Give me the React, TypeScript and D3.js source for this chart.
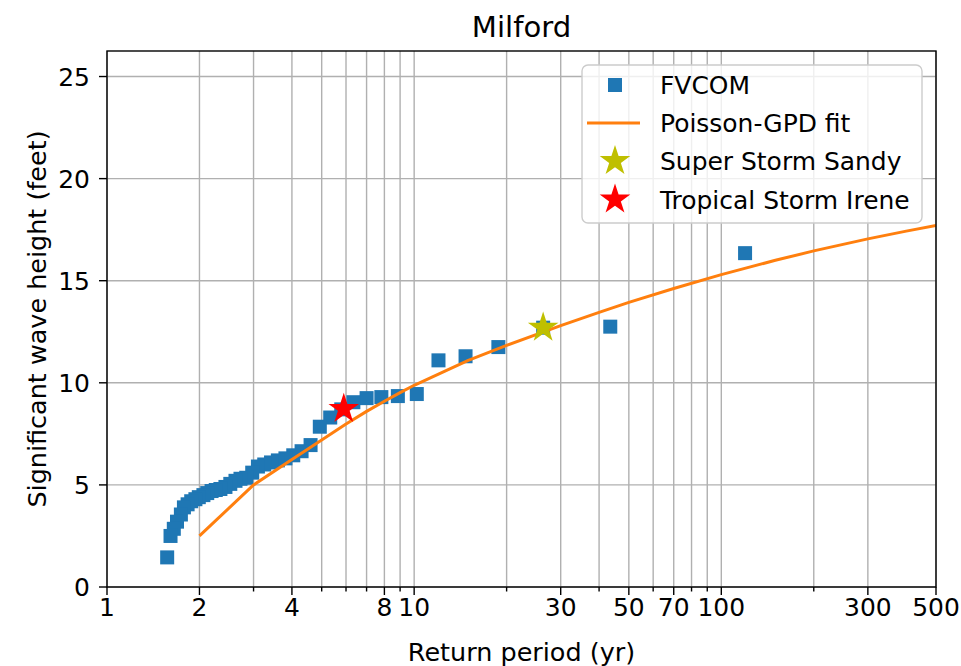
import React from "react";
import * as d3 from "d3";

// ---- Data ----
const fvcomReturnPeriod = [
  119.5, 43.5, 26.3, 18.8, 14.7, 12.0, 10.2, 8.85, 7.82, 7.0, 6.34, 5.79, 5.33,
  4.93, 4.6, 4.3, 4.04, 3.81, 3.6, 3.42, 3.25, 3.1, 2.97, 2.84, 2.72, 2.62, 2.52,
  2.43, 2.34, 2.26, 2.19, 2.12, 2.06, 1.99, 1.94, 1.88, 1.83, 1.78, 1.74, 1.69,
  1.65, 1.61, 1.57,
];
const fvcomHeight = [
  16.35, 12.75, 12.7, 11.75, 11.3, 11.1, 9.45, 9.35, 9.3, 9.25, 9.05, 8.7, 8.3,
  7.85, 6.95, 6.65, 6.45, 6.3, 6.2, 6.1, 6.0, 5.9, 5.6, 5.35, 5.3, 5.2, 5.05,
  4.9, 4.8, 4.75, 4.7, 4.6, 4.5, 4.4, 4.3, 4.2, 4.05, 3.9, 3.55, 3.2, 2.85, 2.5,
  1.45,
];
const fitReturnPeriod = [2, 3, 4, 5, 6, 7, 8, 9, 10, 12, 15, 20, 30, 40, 50, 70, 100, 150, 200, 300, 400, 500];
const fitHeight = [2.5, 5.0, 6.25, 7.2, 7.98, 8.6, 9.1, 9.52, 9.88, 10.42, 11.1, 11.83, 12.8, 13.45, 13.94, 14.62, 15.3, 16.0, 16.46, 17.05, 17.43, 17.7];
const sandy = { period: 26.3, height: 12.7 };
const irene = { period: 5.9, height: 8.72 };

const xTickValues = [1, 2, 3, 4, 5, 6, 7, 8, 9, 10, 20, 30, 40, 50, 60, 70, 80, 90, 100, 200, 300, 500];
const xTickLabels = [1, 2, 4, 8, 10, 30, 50, 70, 100, 300, 500];
const yTickValues = [0, 5, 10, 15, 20, 25];

const W = 961;
const H = 666;
const L = 107, R = 936, T = 51, B = 587;
const FONT = "DejaVu Sans";
const SX = 1.04;

function Txt(props: { x: number; y: number; size: number; anchor?: string; rotate?: number; children: any }) {
  const { x, y, size, anchor = "start", rotate = 0, children } = props;
  return (
    <text
      transform={`translate(${x},${y}) rotate(${rotate}) scale(${SX},1)`}
      textAnchor={anchor}
      fontSize={size}
      fill="#000"
    >
      {children}
    </text>
  );
}

export default function App() {
  const x = d3.scaleLog().domain([1, 500]).range([L, R]);
  const y = d3.scaleLinear().domain([0, 26.25]).range([B, T]);

  const linePath = d3
    .line<number>()
    .x((_, i) => x(fitReturnPeriod[i]))
    .y((d) => y(d))(fitHeight) as string;

  const starPath = d3.symbol(d3.symbolStar, 290)() as string;
  const sq = 14;

  const legendRows = [
    { label: "FVCOM", cy: 85 },
    { label: "Poisson-GPD fit", cy: 123 },
    { label: "Super Storm Sandy", cy: 161 },
    { label: "Tropical Storm Irene", cy: 199.5 },
  ];

  return (
    <div style={{ position: "absolute", left: 0, top: 0 }}>
      <svg width={W} height={H} style={{ display: "block", background: "#fff" }} fontFamily={FONT}>
        <defs>
          <clipPath id="plot">
            <rect x={L} y={T} width={R - L} height={B - T} />
          </clipPath>
        </defs>
        <rect x={0} y={0} width={W} height={H} fill="#fff" />
        {/* grid */}
        {xTickValues.map((v) => (
          <line key={"gx" + v} x1={x(v)} x2={x(v)} y1={T} y2={B} stroke="#b0b0b0" strokeWidth={1.4} />
        ))}
        {yTickValues.map((v) => (
          <line key={"gy" + v} x1={L} x2={R} y1={y(v)} y2={y(v)} stroke="#b0b0b0" strokeWidth={1.4} />
        ))}
        <g clipPath="url(#plot)">
          {fvcomReturnPeriod.map((p, i) => (
            <rect
              key={"s" + i}
              x={x(p) - sq / 2}
              y={y(fvcomHeight[i]) - sq / 2}
              width={sq}
              height={sq}
              fill="#1f77b4"
            />
          ))}
          <path d={linePath} fill="none" stroke="#ff7f0e" strokeWidth={3} strokeLinejoin="round" />
          <path d={starPath} transform={`translate(${x(sandy.period)},${y(sandy.height)})`} fill="#bfbf00" />
          <path d={starPath} transform={`translate(${x(irene.period)},${y(irene.height)})`} fill="#ff0000" />
        </g>
        {/* frame */}
        <rect x={L} y={T} width={R - L} height={B - T} fill="none" stroke="#000" strokeWidth={1.4} />
        {/* x ticks */}
        {xTickValues.map((v) => {
          const labeled = xTickLabels.includes(v);
          return (
            <line key={"tx" + v} x1={x(v)} x2={x(v)} y1={B} y2={B + (labeled ? 8 : 4.5)} stroke="#000" strokeWidth={1.4} />
          );
        })}
        {xTickLabels.map((v) => (
          <Txt key={"lx" + v} x={x(v)} y={616} size={24} anchor="middle">
            {v}
          </Txt>
        ))}
        {/* y ticks */}
        {yTickValues.map((v) => (
          <g key={"ty" + v}>
            <line x1={L - 8} x2={L} y1={y(v)} y2={y(v)} stroke="#000" strokeWidth={1.4} />
            <Txt x={90} y={y(v) + 9} size={24} anchor="end">
              {v}
            </Txt>
          </g>
        ))}
        {/* labels */}
        <Txt x={(L + R) / 2} y={37} size={28} anchor="middle">
          Milford
        </Txt>
        <Txt x={(L + R) / 2} y={661} size={24.5} anchor="middle">
          Return period (yr)
        </Txt>
        <Txt x={46} y={(T + B) / 2} size={24.5} anchor="middle" rotate={-90}>
          Significant wave height (feet)
        </Txt>
        {/* legend */}
        <rect x={582} y={65} width={340} height={158} rx={6} fill="#fff" fillOpacity={0.8} stroke="#cccccc" strokeWidth={1.4} />
        {legendRows.map((r, i) => (
          <g key={"lg" + i}>
            {i === 0 && <rect x={615 - sq / 2} y={r.cy - sq / 2} width={sq} height={sq} fill="#1f77b4" />}
            {i === 1 && <line x1={587} x2={640} y1={r.cy} y2={r.cy} stroke="#ff7f0e" strokeWidth={3} />}
            {i === 2 && <path d={starPath} transform={`translate(615,${r.cy})`} fill="#bfbf00" />}
            {i === 3 && <path d={starPath} transform={`translate(615,${r.cy})`} fill="#ff0000" />}
            <Txt x={660} y={r.cy + 9.3} size={24}>
              {r.label}
            </Txt>
          </g>
        ))}
      </svg>
    </div>
  );
}
